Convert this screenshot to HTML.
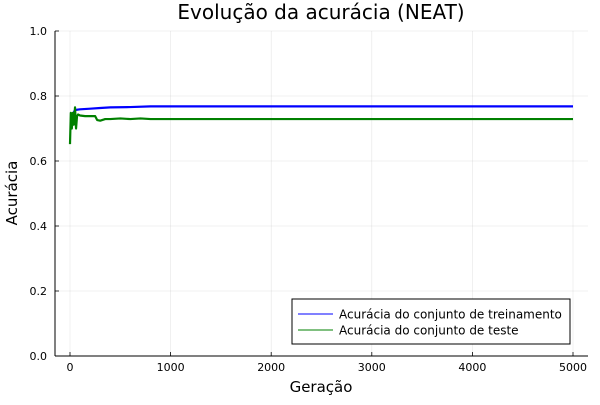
<!DOCTYPE html>
<html><head><meta charset="utf-8"><style>
body{margin:0;background:#fff;font-family:"Liberation Sans","DejaVu Sans",sans-serif}
svg text{font-family:"DejaVu Sans","Liberation Sans",sans-serif}
</style></head><body>
<svg id="chart" width="600" height="400" viewBox="0 0 600 400" xmlns="http://www.w3.org/2000/svg">
<text x="321" y="19" text-anchor="middle" font-size="20" fill="#000">Evolução da acurácia (NEAT)</text>
<g id="grid"></g>
<g id="axes"></g>
<g id="series"></g>
<text x="321" y="392" text-anchor="middle" font-size="15">Geração</text>
<text transform="translate(17,193) rotate(-90)" text-anchor="middle" font-size="15">Acurácia</text>
<g>
<rect x="292" y="299" width="278" height="45" fill="#fff" stroke="#000" stroke-width="1"/>
<line x1="298" y1="314" x2="333" y2="314" stroke="#0000ff" stroke-width="1"/>
<text x="339" y="318.5" font-size="12">Acurácia do conjunto de treinamento</text>
<line x1="298" y1="330" x2="333" y2="330" stroke="#008000" stroke-width="1"/>
<text x="339" y="334.5" font-size="12">Acurácia do conjunto de teste</text>
</g>
</svg>
<script>
const xTicks=[0,1000,2000,3000,4000,5000];
const yTicks=[0,0.2,0.4,0.6,0.8,1.0];
const yTickLabels=["0.0","0.2","0.4","0.6","0.8","1.0"];
const trainGen=[10,30,50,100,200,300,400,600,800,5000];
const trainAcc=[0.73,0.745,0.757,0.759,0.761,0.763,0.765,0.766,0.768,0.768];
const testGen=[0,8,18,28,38,50,60,70,80,100,150,200,250,270,300,350,400,500,600,700,800,5000];
const testAcc=[0.652,0.748,0.70,0.748,0.712,0.765,0.70,0.738,0.743,0.74,0.738,0.738,0.738,0.726,0.724,0.729,0.729,0.731,0.729,0.731,0.729,0.729];
const X0=70,XK=0.1006,Y0=356,YK=325;
const sx=v=>X0+v*XK, sy=v=>Y0-v*YK;
const NS="http://www.w3.org/2000/svg";
const grid=document.getElementById('grid'),axes=document.getElementById('axes'),ser=document.getElementById('series');
function mk(tag,attrs,parent){const e=document.createElementNS(NS,tag);for(const k in attrs)e.setAttribute(k,attrs[k]);parent.appendChild(e);return e;}
xTicks.forEach(t=>{
 const l=mk('line',{x1:sx(t),x2:sx(t),y1:31,y2:356,stroke:'#000','stroke-opacity':0.1,'stroke-width':0.6},grid);
 
 
 mk('line',{x1:sx(t),x2:sx(t),y1:356,y2:352,stroke:'#000','stroke-width':0.8},axes);
 const tx=mk('text',{x:sx(t),y:371,'text-anchor':'middle','font-size':11},axes);tx.textContent=t;
 
 
});
yTicks.forEach((t,i)=>{
 const l=mk('line',{x1:55,x2:588,y1:sy(t),y2:sy(t),stroke:'#000','stroke-opacity':0.1,'stroke-width':0.6},grid);
 
 
 mk('line',{x1:55,x2:59,y1:sy(t),y2:sy(t),stroke:'#000','stroke-width':0.8},axes);
 const tx=mk('text',{x:47,y:sy(t)+4,'text-anchor':'end','font-size':11},axes);tx.textContent=yTickLabels[i];
 
 
});
mk('line',{x1:55,x2:588,y1:356,y2:356,stroke:'#000','stroke-width':1},axes);
mk('line',{x1:55,x2:55,y1:31,y2:356,stroke:'#000','stroke-width':1},axes);
function line(gx,ay,color,name){
 const p=mk('polyline',{points:gx.map((g,i)=>sx(g)+','+sy(ay[i])).join(' '),fill:'none',stroke:color,'stroke-width':2.2,'stroke-linejoin':'round'},ser);
 
 
}
line(trainGen,trainAcc,'#0000ff','train-accuracy-line');
line(testGen,testAcc,'#008000','test-accuracy-line');
</script>
</body></html>
